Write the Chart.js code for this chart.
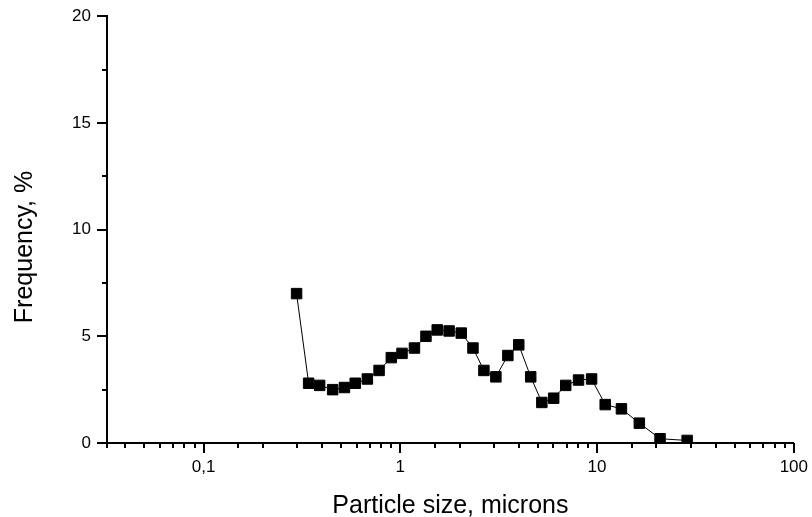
<!DOCTYPE html>
<html>
<head>
<meta charset="utf-8">
<script src="https://cdn.jsdelivr.net/npm/chart.js@4/dist/chart.umd.min.js"></script>
<style>
  html,body{margin:0;padding:0;background:#fff}
  #wrap{width:812px;height:517px}
</style>
</head>
<body>
<div id="wrap"><canvas id="c"></canvas></div>
<script>
// particle size distribution
const sizes = [0.297, 0.342, 0.389, 0.453, 0.52, 0.59, 0.68, 0.78, 0.90, 1.02, 1.18, 1.35, 1.54, 1.77, 2.04, 2.34, 2.66, 3.06, 3.52, 4.0, 4.6, 5.24, 6.02, 6.93, 8.05, 9.38, 11.0, 13.3, 16.4, 20.9, 28.7];
const freq  = [7.0, 2.8, 2.7, 2.5, 2.6, 2.8, 3.0, 3.4, 4.0, 4.2, 4.45, 5.0, 5.3, 5.25, 5.15, 4.45, 3.4, 3.1, 4.1, 4.6, 3.1, 1.9, 2.1, 2.7, 2.95, 3.0, 1.8, 1.6, 0.93, 0.2, 0.12];
const xMajor = [0.1, 1, 10, 100];
const yMajor = [0, 5, 10, 15, 20];

const FONT = '"Liberation Sans", Arial, sans-serif';

// draws tick marks: long ones at labelled values, short ones elsewhere
const tickMarks = {
  id: 'tickMarks',
  afterDraw(chart) {
    const ctx = chart.ctx, xs = chart.scales.x, ys = chart.scales.y;
    const a = chart.chartArea;
    ctx.save();
    ctx.strokeStyle = '#000';
    ctx.lineWidth = 2;
    xs.ticks.forEach(t => {
      const px = Math.round(xs.getPixelForValue(t.value));
      const major = xMajor.some(v => Math.abs(v - t.value) < 1e-9);
      ctx.beginPath();
      ctx.moveTo(px, a.bottom);
      ctx.lineTo(px, a.bottom + (major ? 10 : 5));
      ctx.stroke();
    });
    ys.ticks.forEach(t => {
      const py = Math.round(ys.getPixelForValue(t.value));
      const major = yMajor.includes(t.value);
      ctx.beginPath();
      ctx.moveTo(a.left, py);
      ctx.lineTo(a.left - (major ? 10 : 5), py);
      ctx.stroke();
    });
    ctx.restore();
  }
};

new Chart(document.getElementById('c'), {
  type: 'line',
  data: {
    datasets: [{
      data: sizes.map((s, i) => ({x: s, y: freq[i]})),
      borderColor: '#000',
      borderWidth: 1,
      backgroundColor: '#000',
      pointStyle: 'rect',
      pointRadius: 7.4,
      pointBorderWidth: 1,
      pointBorderColor: '#000',
      pointBackgroundColor: '#000',
      tension: 0
    }]
  },
  options: {
    responsive: true,
    maintainAspectRatio: false,
    animation: false,
    layout: {padding: {top: 16, right: 15, left: 0, bottom: 0}},
    plugins: {legend: {display: false}, tooltip: {enabled: false}},
    scales: {
      x: {
        type: 'logarithmic',
        min: 0.0323, max: 100,
        afterFit: s => { s.height = 74 },
        border: {display: true, color: '#000', width: 2},
        grid: {display: true, drawOnChartArea: false, drawTicks: true, tickLength: 10, color: 'rgba(0,0,0,0)'},
        ticks: {
          color: '#000', font: {family: FONT, size: 17}, padding: 4, autoSkip: false, maxRotation: 0,
          callback: v => xMajor.some(m => Math.abs(m - v) < 1e-9) ? String(v).replace('.', ',') : ''
        },
        title: {display: true, text: 'Particle size, microns', color: '#000', font: {family: FONT, size: 25, lineHeight: 0.9}, padding: {top: 0, bottom: 0}}
      },
      y: {
        min: 0, max: 20,
        afterFit: s => { s.width = 107 },
        border: {display: true, color: '#000', width: 2},
        grid: {display: true, drawOnChartArea: false, drawTicks: true, tickLength: 10, color: 'rgba(0,0,0,0)'},
        ticks: {
          stepSize: 2.5, color: '#000', font: {family: FONT, size: 17}, padding: 6,
          callback: v => yMajor.includes(v) ? String(v) : ''
        },
        title: {display: true, text: 'Frequency, %\u00a0\u00a0\u00a0\u00a0\u00a0', color: '#000', font: {family: FONT, size: 25, lineHeight: 0.9}, padding: {top: 14, bottom: 0}}
      }
    }
  },
  plugins: [tickMarks]
});
</script>
</body>
</html>
